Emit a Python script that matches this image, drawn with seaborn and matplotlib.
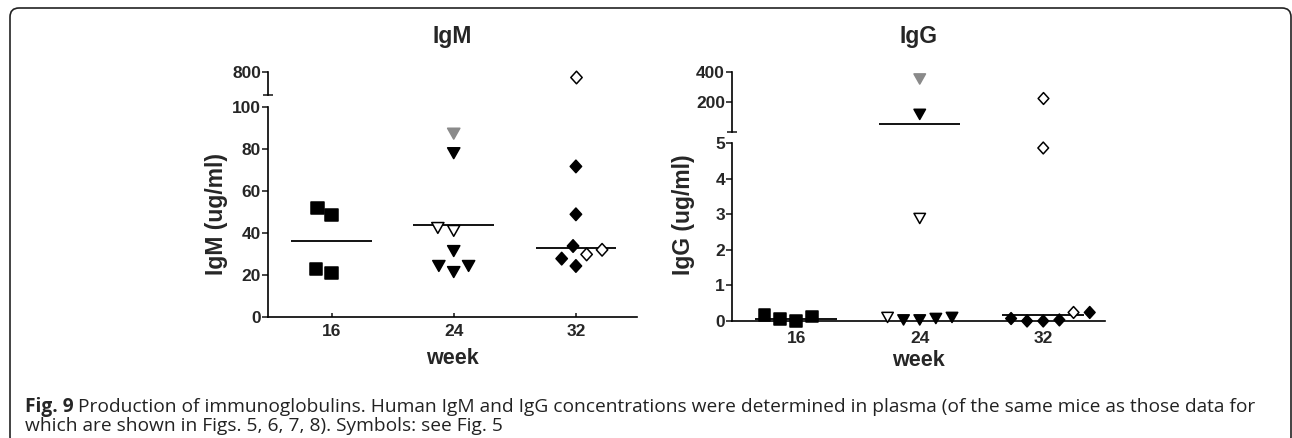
import numpy as np
import pandas as pd
import matplotlib
matplotlib.use("Agg")
import matplotlib.pyplot as plt
import seaborn as sns
from matplotlib.markers import MarkerStyle
from matplotlib.transforms import Affine2D
from matplotlib.patches import FancyBboxPatch
from matplotlib.ticker import FixedLocator

# ---------------- data ----------------
weeks = ["16", "24", "32"]
week_markers = ["s", "v", "D"]

# IgM (ug/ml) per week; fill: black / open / gray
igm_w16 = [52.0, 48.4, 21.0, 23.0]
igm_w16_fill = ["black", "black", "black", "black"]
igm_w24 = [87.3, 78.0, 41.0, 42.4, 31.4, 24.3, 21.4, 24.3]
igm_w24_fill = ["gray", "black", "open", "open", "black", "black", "black", "black"]
igm_w32 = [650.0, 71.7, 48.9, 33.8, 27.8, 24.3, 29.8, 32.0]
igm_w32_fill = ["open", "black", "black", "black", "black", "black", "open", "open"]
igm_center = [36.0, 43.7, 33.0]

# IgG (ug/ml) per week
igg_w16 = [0.12, 0.0, 0.05, 0.17]
igg_w16_fill = ["black", "black", "black", "black"]
igg_w24 = [354.0, 121.0, 2.88, 0.10, 0.07, 0.03, 0.03, 0.10]
igg_w24_fill = ["gray", "black", "open", "open", "black", "black", "black", "black"]
igg_w32 = [227.0, 4.86, 0.24, 0.03, 0.0, 0.0, 0.07, 0.24]
igg_w32_fill = ["open", "open", "black", "black", "black", "black", "black", "open"]
igg_center = [0.06, 58.0, 0.17]

# axis segments (broken y axes) and ticks
igm_lower_range = (0, 100)
igm_upper_range = (100, 800)
igm_lower_ticks = [0, 20, 40, 60, 80, 100]
igm_upper_ticks = [800]
igg_lower_range = (0, 5)
igg_upper_range = (5, 400)
igg_lower_ticks = [0, 1, 2, 3, 4, 5]
igg_upper_ticks = [200, 400]

caption_bold = "Fig. 9"
caption_line1 = ("Production of immunoglobulins. Human IgM and IgG concentrations were "
                 "determined in plasma (of the same mice as those data for")
caption_line2 = "which are shown in Figs. 5, 6, 7, 8). Symbols: see Fig. 5"


def make_df(vals, fills):
    rows = []
    for w, v, f in zip(weeks, vals, fills):
        for vi, fi in zip(v, f):
            rows.append({"week": w, "value": vi, "fill": fi})
    return pd.DataFrame(rows)


igm_df = make_df([igm_w16, igm_w24, igm_w32], [igm_w16_fill, igm_w24_fill, igm_w32_fill])
igg_df = make_df([igg_w16, igg_w24, igg_w32], [igg_w16_fill, igg_w24_fill, igg_w32_fill])

# ---------------- style ----------------
sns.set_style("white")
plt.rcParams["font.family"] = ["Liberation Sans", "DejaVu Sans"]

FW, FH, DPI = 12.92, 4.38, 100
W, H = FW * DPI, FH * DPI
fig = plt.figure(figsize=(FW, FH), dpi=DPI)

GRAY = "#8a8a8a"
FACE = {"black": "black", "open": "white", "gray": GRAY}
EDGE = {"black": "black", "open": "black", "gray": GRAY}
SWARM = 10.0          # points, controls swarm spacing
LW = 1.1
AX_LW = 1.2
TICK_FS = 12.5
# marker path scale (relative to SWARM size), sx, sy
MSCALE = {"s": (0.88, 0.88), "v": (0.88, 0.78), "D": (0.58, 0.64)}


def px(x0, y0, x1, y1):
    """pixel box (from top-left) -> figure fraction rect"""
    return [x0 / W, 1 - y1 / H, (x1 - x0) / W, (y1 - y0) / H]


def swarm(ax, df, lo, hi, scale_factor):
    for i, w in enumerate(weeks):
        if lo is None:
            sub = df[(df["week"] == w) & (df["value"] <= hi)]
        else:
            sub = df[(df["week"] == w) & (df["value"] > lo) & (df["value"] <= hi)]
        if len(sub) == 0:
            continue
        n0 = len(ax.collections)
        sns.swarmplot(data=sub, x="week", y="value", order=weeks, ax=ax,
                      size=SWARM, color="black", linewidth=LW, warn_thresh=1.0)
        cands = [c for c in ax.collections[n0:] if len(c.get_offsets()) > 0]
        coll = cands[-1]
        m = week_markers[i]
        ms = MarkerStyle(m)
        base = ms.get_path().transformed(ms.get_transform())
        sx, sy = MSCALE[m]
        coll.set_paths([base.transformed(Affine2D().scale(sx * scale_factor, sy * scale_factor))])
        coll.set_facecolors([FACE[f] for f in sub["fill"]])
        coll.set_edgecolors([EDGE[f] for f in sub["fill"]])
        coll.set_linewidth(LW)
        coll.set_zorder(4)
        coll.set_clip_on(False)


def style_lower(ax, rng, ticks, xpad):
    ax.set_ylim(*rng)
    ax.set_xlim(-0.52, 2.5)
    for s in ["top", "right"]:
        ax.spines[s].set_visible(False)
    for s in ["left", "bottom"]:
        ax.spines[s].set_linewidth(AX_LW)
        ax.spines[s].set_color("black")
    ax.set_yticks(ticks)
    ax.set_yticklabels([str(t) for t in ticks])
    ax.yaxis.set_minor_locator(FixedLocator([rng[1]]))
    ax.tick_params(axis="y", which="major", direction="out", length=4, width=AX_LW,
                   pad=1, labelsize=TICK_FS, left=True)
    ax.tick_params(axis="y", which="minor", direction="inout", length=7, width=AX_LW, left=True)
    ax.tick_params(axis="x", which="major", direction="in", length=3, width=AX_LW,
                   pad=xpad, labelsize=TICK_FS, bottom=True)
    ax.set_xticks(range(len(weeks)))
    ax.set_xticklabels(weeks)
    for lab in ax.get_xticklabels() + ax.get_yticklabels():
        lab.set_fontweight("bold")
    ax.set_xlabel("week", fontsize=15.5, fontweight="bold")
    ax.patch.set_alpha(0)


def style_upper(ax, rng, ticks):
    ax.set_ylim(*rng)
    ax.set_xlim(-0.52, 2.5)
    for s in ["top", "right", "bottom"]:
        ax.spines[s].set_visible(False)
    ax.spines["left"].set_linewidth(AX_LW)
    ax.spines["left"].set_color("black")
    ax.set_yticks(ticks)
    ax.set_yticklabels([str(t) for t in ticks])
    ax.yaxis.set_minor_locator(FixedLocator([rng[0]]))
    ax.tick_params(axis="y", which="major", direction="out", length=4, width=AX_LW,
                   pad=1, labelsize=TICK_FS, left=True)
    ax.tick_params(axis="y", which="minor", direction="inout", length=7, width=AX_LW, left=True)
    ax.set_xticks([])
    ax.set_xlabel("")
    ax.set_ylabel("")
    for lab in ax.get_yticklabels():
        lab.set_fontweight("bold")
    ax.patch.set_alpha(0)


def center_lines(ax_lo, ax_up, centers, split):
    for i, c in enumerate(centers):
        ax = ax_lo if c <= split else ax_up
        ax.hlines(c, i - 0.33, i + 0.33, color="black", lw=1.3, zorder=2, clip_on=False)


# ---------------- IgM panel ----------------
m_lo = fig.add_axes(px(268, 107, 637, 317))
m_up = fig.add_axes(px(268, 72, 637, 95))
swarm(m_lo, igm_df, None, igm_lower_range[1], 1.0)
swarm(m_up, igm_df, igm_upper_range[0], igm_upper_range[1], 1.0)
center_lines(m_lo, m_up, igm_center, igm_lower_range[1])
style_lower(m_lo, igm_lower_range, igm_lower_ticks, 5)
style_upper(m_up, igm_upper_range, igm_upper_ticks)
m_lo.set_ylabel("IgM (ug/ml)", fontsize=16.5, fontweight="bold")
m_lo.yaxis.set_label_coords(-0.108, 0.49)
m_lo.xaxis.set_label_coords(0.5, -0.15)

# ---------------- IgG panel ----------------
g_lo = fig.add_axes(px(732, 143, 1105, 321))
g_up = fig.add_axes(px(732, 72, 1105, 132))
swarm(g_lo, igg_df, None, igg_lower_range[1], 0.94)
swarm(g_up, igg_df, igg_upper_range[0], igg_upper_range[1], 0.94)
center_lines(g_lo, g_up, igg_center, igg_lower_range[1])
style_lower(g_lo, igg_lower_range, igg_lower_ticks, 7.5)
style_upper(g_up, igg_upper_range, igg_upper_ticks)
g_lo.set_ylabel("IgG (ug/ml)", fontsize=16.5, fontweight="bold")
g_lo.yaxis.set_label_coords(-0.100, 0.60)
g_lo.xaxis.set_label_coords(0.5, -0.165)

# titles
fig.text(452.5 / W, 1 - 43 / H, "IgM", ha="center", va="baseline", fontsize=16.5, fontweight="bold")
fig.text(918.5 / W, 1 - 43 / H, "IgG", ha="center", va="baseline", fontsize=16.5, fontweight="bold")

# frame
frame = FancyBboxPatch((0.10, -0.08), 12.81, 4.38, boxstyle="round,pad=0,rounding_size=0.09",
                       transform=fig.dpi_scale_trans, fill=False, edgecolor="#222222",
                       linewidth=1.2, clip_on=False)
fig.add_artist(frame)

# caption
cap_font = ["Open Sans", "DejaVu Sans"]
CAP_FS = 13.75
t1 = fig.text(25 / W, 1 - 412 / H, caption_bold, ha="left", va="baseline", fontsize=CAP_FS,
              fontweight="bold", family=cap_font)
renderer = fig.canvas.get_renderer()
bb = t1.get_window_extent(renderer)
fig.text((bb.x1 + 4) / W, 1 - 412 / H, caption_line1, ha="left", va="baseline",
         fontsize=CAP_FS, family=cap_font, color="#222222")
fig.text(25 / W, 1 - 431 / H, caption_line2, ha="left", va="baseline",
         fontsize=CAP_FS, family=cap_font, color="#222222")

fig.savefig("out.png", dpi=DPI)
